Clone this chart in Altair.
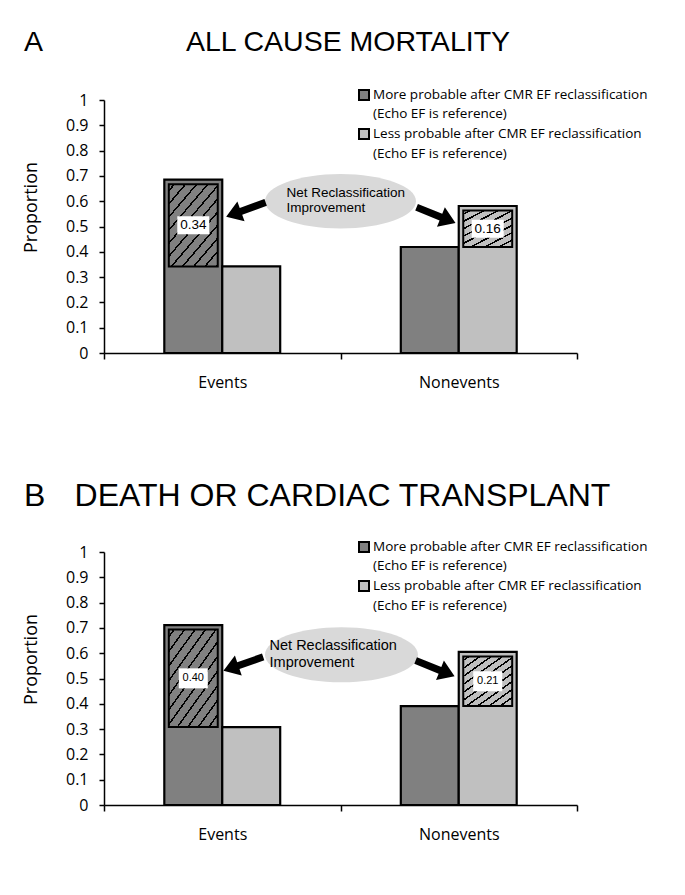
import math
import altair as alt
import pandas as pd

# ---------------- data ----------------
categories = ["Events", "Nonevents"]
panel_letters = ["A", "B"]
panel_titles = ["ALL CAUSE MORTALITY", "DEATH OR CARDIAC TRANSPLANT"]
series_names = ["More probable after CMR EF reclassification",
                "Less probable after CMR EF reclassification"]
legend_note = "(Echo EF is reference)"
# proportions per panel, ordered [Events, Nonevents]
more_probable = [[0.685, 0.419], [0.711, 0.391]]
less_probable = [[0.342, 0.581], [0.308, 0.605]]
nri_labels = [["0.34", "0.16"], ["0.40", "0.21"]]
callout_lines = ["Net Reclassification", "Improvement"]
y_ticks = [0, 0.1, 0.2, 0.3, 0.4, 0.5, 0.6, 0.7, 0.8, 0.9, 1]

# ---------------- style ----------------
PLOT_W, PLOT_H = 473, 253
DARK, LIGHT, OVAL = "#808080", "#c0c0c0", "#d9d9d9"
BAR_W = 0.245          # width of one bar, in category units
INSET = 4.5            # inset of hatched box inside the bar (px)
SANS = "Open Sans"
ARIAL = "Liberation Sans"
OVAL_PATH = "M -1 0 A 1 0.36 0 1 1 1 0 A 1 0.36 0 1 1 -1 0 Z"
ARROW_PATH = ("M -1 -0.17 L 0.25 -0.17 L 0.25 -0.5 L 1 0 "
              "L 0.25 0.5 L 0.25 0.17 L -1 0.17 Z")

PANEL_STYLE = [
    dict(title_size=28.5, title_x=244, title_y=-49, letter_x=-80,
         oval=(1.0, 0.60, 151), oval_text=(0.772, [0.632, 0.573], 13.5),
         arrows=[(0.60, 0.567, 160), (1.404, 0.545, 22)], box=(32, 18, 13.5)),
    dict(title_size=32, title_x=238.5, title_y=-46, letter_x=-80,
         oval=(1.004, 0.594, 153), oval_text=(0.70, [0.628, 0.56], 14.5),
         arrows=[(0.589, 0.558, 161), (1.40, 0.54, 22)], box=(29, 20, 11)),
]
LEGEND_X_SQ, LEGEND_X_TXT = 260, 269          # px from plot left
LEGEND_ROWS_Y = [-5, 14, 34, 53.5]            # px above/below plot top


def px_to_x(px):
    return px / (PLOT_W / 2)


def px_to_y(py):
    return 1 - py / PLOT_H


def hatch_fill(w, h, bg, slope, spacing, lw=1.5):
    a, b = slope * w / h, 1.0
    k = (a + b) / (a * a + b * b)
    a, b = a * k, b * k
    g = math.hypot(a / w, b / h) / (a * a + b * b)
    period = spacing * g
    half = lw * g / 2
    stops = [alt.GradientStop(color=bg, offset=0)]
    c = period / 2
    while c + half < 1:
        stops += [alt.GradientStop(color=bg, offset=round(c - half, 5)),
                  alt.GradientStop(color="black", offset=round(c - half, 5)),
                  alt.GradientStop(color="black", offset=round(c + half, 5)),
                  alt.GradientStop(color=bg, offset=round(c + half, 5))]
        c += period
    stops.append(alt.GradientStop(color=bg, offset=1))
    return alt.LinearGradient(gradient="linear", stops=stops,
                              x1=0, y1=0, x2=round(a, 4), y2=round(b, 4))


xs = alt.Scale(domain=[0, 2], nice=False, zero=False)
ys = alt.Scale(domain=[0, 1], nice=False)
fill_scale = alt.Scale(domain=series_names, range=[DARK, LIGHT])

x_label_expr = " : ".join(
    f"datum.value == {i + 0.5} ? '{c}'" for i, c in enumerate(categories)) + " : ''"

x_axis = alt.Axis(
    values=[0, 0.5, 1, 1.5, 2], labelExpr=x_label_expr,
    tickOpacity={"condition": {"test": "datum.value % 1 == 0", "value": 1}, "value": 0},
    grid=False, title=None, domainColor="black", domainWidth=1.5,
    tickColor="black", tickWidth=1.5, tickSize=6,
    labelFont=SANS, labelFontSize=16, labelColor="black", labelPadding=15,
    labelOverlap=False, labelFlush=False)

y_axis = alt.Axis(
    values=y_ticks, labelExpr="format(datum.value, '.1~f')", grid=False,
    title="Proportion", titleFont=SANS, titleFontSize=18, titleFontWeight="normal",
    titleColor="black", titleX=-73, titleY=107, titleAngle=270,
    titleAlign="center", titleBaseline="middle",
    domainColor="black", domainWidth=1.5, tickColor="black", tickWidth=1.5,
    tickSize=5, labelFont=SANS, labelFontSize=16, labelColor="black",
    labelPadding=11, labelFlush=False)


def X(field):
    return alt.X(field, type="quantitative", scale=xs, axis=x_axis)


def Y(field):
    return alt.Y(field, type="quantitative", scale=ys, axis=y_axis)


def make_panel(p):
    st = PANEL_STYLE[p]
    rows, hatch_rows = [], []
    for i, cat in enumerate(categories):
        vals = [more_probable[p][i], less_probable[p][i]]
        for s in range(2):
            x0 = i + 0.5 - BAR_W + s * BAR_W
            rows.append(dict(category=cat, series=series_names[s], value=vals[s],
                             x0=x0, x1=x0 + BAR_W))
        top = 0 if vals[0] >= vals[1] else 1
        x0 = i + 0.5 - BAR_W + top * BAR_W
        lo, hi = min(vals), max(vals)
        hatch_rows.append(dict(category=cat, x0=x0, x1=x0 + BAR_W, xc=x0 + BAR_W / 2,
                               lo=lo, hi=hi, mid=(lo + hi) / 2, label=nri_labels[p][i],
                               bg=[DARK, LIGHT][top]))
    bars_df = pd.DataFrame(rows)
    hatch_df = pd.DataFrame(hatch_rows)

    bars = alt.Chart(bars_df).mark_rect(stroke="black", strokeWidth=2.2).encode(
        x=X("x0"), x2="x1", y=Y("value"), y2=alt.datum(0),
        fill=alt.Fill("series:N", scale=fill_scale, legend=None))

    layers = [bars]
    bar_px = BAR_W * PLOT_W / 2
    for i, r in enumerate(hatch_rows):
        w = bar_px - 2 * INSET
        h = (r["hi"] - r["lo"]) * PLOT_H - INSET
        slope = 0.7 * h / w
        spacing = 8.5 if i == 0 else 6.5
        grad = hatch_fill(w, h, r["bg"], slope, spacing)
        layers.append(
            alt.Chart(hatch_df.iloc[[i]]).mark_rect(
                fill=grad, stroke="black", strokeWidth=2,
                xOffset=INSET, x2Offset=-INSET, yOffset=INSET).encode(
                x=X("x0"), x2="x1", y=Y("hi"), y2="lo"))

    bw, bh, bfs = st["box"]
    layers.append(alt.Chart(hatch_df).mark_rect(
        fill="white", xOffset=-bw / 2, x2Offset=bw / 2,
        yOffset=-bh / 2 + INSET / 2, y2Offset=bh / 2 + INSET / 2).encode(
        x=X("xc"), x2="xc", y=Y("mid"), y2="mid"))
    layers.append(alt.Chart(hatch_df).mark_text(
        font=ARIAL, fontSize=bfs, color="black", align="center", baseline="middle",
        dy=INSET / 2).encode(x=X("xc"), y=Y("mid"), text="label:N"))

    # callout oval, text and arrows
    ox, oy, ow = st["oval"]
    layers.append(alt.Chart(pd.DataFrame({"x": [ox], "y": [oy]})).mark_point(
        shape=OVAL_PATH, filled=True, color=OVAL, opacity=1, size=ow * ow,
        strokeWidth=0).encode(x=X("x"), y=Y("y")))
    tx, tys, tfs = st["oval_text"]
    layers.append(alt.Chart(pd.DataFrame({"t": callout_lines, "x": [tx, tx], "y": tys}))
                  .mark_text(font=ARIAL, fontSize=tfs, color="black", align="left",
                             baseline="middle").encode(x=X("x"), y=Y("y"), text="t:N"))
    arr = pd.DataFrame(st["arrows"], columns=["x", "y", "ang"])
    layers.append(alt.Chart(arr).mark_point(
        shape=ARROW_PATH, filled=True, color="black", opacity=1, size=1764,
        strokeWidth=0).encode(x=X("x"), y=Y("y"),
                              angle=alt.Angle("ang:Q", scale=None)))

    # legend (drawn inside the plot area, top right)
    sq = pd.DataFrame({"series": series_names,
                       "x": [px_to_x(LEGEND_X_SQ)] * 2,
                       "y": [px_to_y(LEGEND_ROWS_Y[0]), px_to_y(LEGEND_ROWS_Y[2])]})
    layers.append(alt.Chart(sq).mark_square(
        size=100, stroke="black", strokeWidth=2, opacity=1).encode(
        x=X("x"), y=Y("y"), fill=alt.Fill("series:N", scale=fill_scale, legend=None)))
    lt = pd.DataFrame({"t": [series_names[0], legend_note, series_names[1], legend_note],
                       "x": [px_to_x(LEGEND_X_TXT)] * 4,
                       "y": [px_to_y(v) for v in LEGEND_ROWS_Y]})
    layers.append(alt.Chart(lt).mark_text(
        font=SANS, fontSize=13.5, color="black", align="left", baseline="middle").encode(
        x=X("x"), y=Y("y"), text="t:N"))

    # panel heading
    hd = pd.DataFrame({"t": [panel_letters[p], panel_titles[p]],
                       "x": [px_to_x(st["letter_x"]), px_to_x(st["title_x"])],
                       "y": [px_to_y(st["title_y"])] * 2})
    layers.append(alt.Chart(hd.iloc[[0]]).mark_text(
        font=ARIAL, fontSize=st["title_size"], color="black", align="left",
        baseline="alphabetic").encode(x=X("x"), y=Y("y"), text="t:N"))
    layers.append(alt.Chart(hd.iloc[[1]]).mark_text(
        font=ARIAL, fontSize=st["title_size"], color="black", align="center",
        baseline="alphabetic").encode(x=X("x"), y=Y("y"), text="t:N"))

    return alt.layer(*layers).properties(width=PLOT_W, height=PLOT_H)


chart = alt.vconcat(make_panel(0), make_panel(1), spacing=199, bounds="flush").properties(
    padding={"left": 14, "top": 20, "right": 10, "bottom": 10},
    background="white").configure_view(stroke=None)

chart.save("out.html", embed_options={"renderer": "svg", "actions": False})
